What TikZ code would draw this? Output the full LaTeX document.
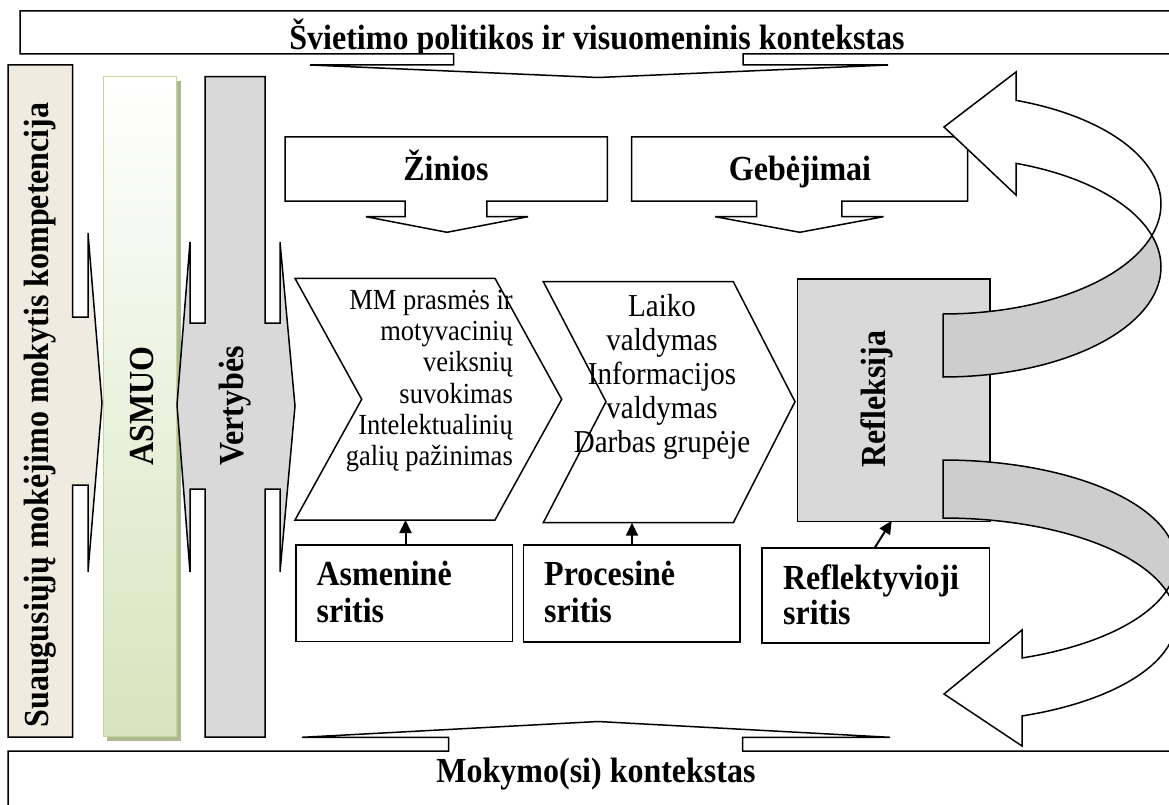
\documentclass[tikz,border=0pt]{standalone}
\usepackage{fontspec}
\setmainfont{Liberation Serif}
\usetikzlibrary{arrows.meta}
\definecolor{beige}{HTML}{EEECE1}
\definecolor{grayA}{HTML}{D9D9D9}
\definecolor{grayB}{HTML}{CDCDCD}
\definecolor{greenB}{HTML}{C3D69B}
\definecolor{greenF}{HTML}{D7E4BD}
\definecolor{greenS}{HTML}{AEB991}
\tikzset{
  outl/.style={draw=black, line width=1.5pt, line join=miter},
  boldtxt/.style={font=\fontsize{32}{37}\selectfont\bfseries, inner sep=0pt, yscale=1.1},
  boxnode/.style={draw=black, fill=white, line width=1.5pt, inner sep=0pt, anchor=north west},
  smallarr/.style={-{Triangle[length=13pt,width=12pt]}, line width=2pt},
}
\begin{document}
\begin{tikzpicture}[x=1pt,y=-1pt]
\useasboundingbox (0,0) rectangle (1169,805);
\clip (0,0) rectangle (1169,805);

% ---------- top banner (down arrow callout)
\path[fill=white] (20,11) -- (1200,11) -- (1200,54) -- (743,54) -- (743,65) -- (888,65)
  -- (598,77.5) -- (310,65) -- (453.5,65) -- (453.5,54) -- (20,54) -- cycle;
\begin{scope}
  \clip (20,11) -- (1200,11) -- (1200,54) -- (743,54) -- (743,65) -- (888,65)
  -- (598,77.5) -- (310,65) -- (453.5,65) -- (453.5,54) -- (20,54) -- cycle;
  \node[boldtxt, anchor=base] (svt) at (597,50) {Švietimo politikos ir visuomeninis kontekstas};
\end{scope}
\draw[outl] (1200,11) -- (20,11) -- (20,54) -- (453.5,54) -- (453.5,65) -- (310,65)
  -- (598,77.5) -- (888,65) -- (743,65) -- (743,54) -- (1200,54);

% ---------- bottom banner (up arrow callout)
\path[outl, fill=white] (8,830) -- (8,751) -- (448.5,751) -- (448.5,737.3) -- (302,737.3)
  -- (598,721.5) -- (890,737.3) -- (742.7,737.3) -- (742.7,751) -- (1200,751);
\node[boldtxt, anchor=base] (mok) at (596,782) {Mokymo(si) kontekstas};

% ---------- left column with right arrow
\path[outl, fill=beige] (8,65) -- (72.5,65) -- (72.5,317) -- (88,317) -- (88,233) -- (102,403)
  -- (88,572) -- (88,485) -- (72.5,485) -- (72.5,737) -- (8,737) -- cycle;
\node[rotate=90, boldtxt] (komp) at (40,415) {Suaugusiųjų mokėjimo mokytis kompetencija};

% ---------- ASMUO column
\fill[greenS] (107,80.7) rectangle (180.5,741);
\path[draw=greenB, line width=1.5pt, top color=white, bottom color=greenF]
  (103.5,76.7) rectangle (176.5,736.7);
\node[rotate=90, boldtxt] (asmuo) at (142,406) {ASMUO};

% ---------- Vertybes column with left-right arrow
\path[outl, fill=grayA] (205,76.7) -- (265,76.7) -- (265,323) -- (280,323) -- (280,242) -- (295,406)
  -- (280,572) -- (280,489) -- (265,489) -- (265,737) -- (205,737) -- (205,489) -- (190,489)
  -- (190,572) -- (177,405) -- (190,242) -- (190,323) -- (205,323) -- cycle;
\node[rotate=90, boldtxt] (vert) at (235,406) {Vertybės};

% ---------- Zinios / Gebejimai callouts
\path[outl, fill=white] (285,137) -- (607.4,137) -- (607.4,201) -- (486.8,201) -- (486.8,216.7)
  -- (528,216.7) -- (447,232.3) -- (366,216.7) -- (405,216.7) -- (405,201) -- (285,201) -- cycle;
\node[boldtxt, anchor=base] (zin) at (446,181) {Žinios};
\path[outl, fill=white] (631.5,137) -- (967.7,137) -- (967.7,201) -- (841.8,201) -- (841.8,216.7)
  -- (883.5,216.7) -- (799.8,232.3) -- (715.2,216.7) -- (756.6,216.7) -- (756.6,201) -- (631.5,201) -- cycle;
\node[boldtxt, anchor=base] (geb) at (800,181) {Gebėjimai};

% ---------- chevrons
\path[outl, fill=white] (295,278.3) -- (495,278.3) -- (561.7,399.3) -- (495,520) -- (295,520)
  -- (361.7,399.3) -- cycle;
\path[outl, fill=white] (543.3,281.7) -- (733.3,281.7) -- (795,401.7) -- (733.3,522.7)
  -- (543.3,522.7) -- (606,401.7) -- cycle;
\coordinate (c1b) at (405.5,520);
\coordinate (c2b) at (632,522.7);
\node[font=\fontsize{26.5}{28.2}\selectfont, inner sep=0pt, yscale=1.1, align=right, anchor=east] (t1) at (513,381)
  {MM prasmės ir\\motyvacinių\\veiksnių\\suvokimas\\Intelektualinių\\galių pažinimas};
\node[font=\fontsize{29}{30.8}\selectfont, inner sep=0pt, yscale=1.1, align=center] (t2) at (662,377)
  {Laiko\\valdymas\\Informacijos\\valdymas\\Darbas grupėje};

% ---------- Refleksija box
\node[boxnode, fill=grayA, minimum width=192.6, minimum height=242.4] (refl) at (796.7,278.3) {};
\node[rotate=90, boldtxt] (reflt) at (877,399) {Refleksija};
\coordinate (rb) at (891.7,520.7);

% ---------- upper curved arrow
\path[outl, fill=white] (944,127) -- (1016,72)
  -- plot[domain=70.43:-16.6, samples=60, variable=\t] ({943+218*cos(\t)},{204-110*sin(\t)})
  -- plot[domain=16.6:70.43, samples=60, variable=\t] ({943+218*cos(\t)},{267-110*sin(\t)})
  -- (1016,195) -- cycle;
\path[outl, fill=grayB]
  plot[domain=-16.6:-90, samples=60, variable=\t] ({943+218*cos(\t)},{204-110*sin(\t)})
  -- plot[domain=-90:16.6, samples=60, variable=\t] ({943+218*cos(\t)},{267-110*sin(\t)})
  -- cycle;

% ---------- lower curved arrow
\path[outl, fill=grayB]
  plot[domain=90:-16.52, samples=60, variable=\t] ({943+233*cos(\t)},{562-102*sin(\t)})
  -- plot[domain=16.52:90, samples=60, variable=\t] ({943+233*cos(\t)},{620-102*sin(\t)})
  -- cycle;
\path[outl, fill=white]
  plot[domain=-16.52:-70.18, samples=60, variable=\t] ({943+233*cos(\t)},{562-102*sin(\t)})
  -- (1022,630) -- (944,694) -- (1022,746)
  -- plot[domain=-70.18:16.52, samples=60, variable=\t] ({943+233*cos(\t)},{620-102*sin(\t)})
  -- cycle;

% ---------- bottom boxes
\node[boxnode, minimum width=216.2, minimum height=96.7] (asm) at (295.3,544) {};
\node[boldtxt, anchor=base west] (asm1) at (316.4,585) {Asmeninė};
\node[boldtxt, anchor=base west] (asm2) at (316.4,622) {sritis};
\node[boxnode, minimum width=216.6, minimum height=97] (proc) at (522.6,544) {};
\node[boldtxt, anchor=base west] (proc1) at (544,585) {Procesinė};
\node[boldtxt, anchor=base west] (proc2) at (544,622) {sritis};
\node[boxnode, minimum width=227.3, minimum height=94.7] (rfs) at (761.4,547.3) {};
\node[boldtxt, anchor=base west] (rfs1) at (782.9,589) {Reflektyvioji};
\node[boldtxt, anchor=base west] (rfs2) at (782.9,624) {sritis};

% ---------- small arrows
\draw[smallarr] (c1b |- asm.north) -- (c1b);
\draw[smallarr] (c2b |- proc.north) -- (c2b);
\coordinate (rs) at (875,547.3);
\draw[smallarr] (rs) -- (rb);
\end{tikzpicture}
\end{document}
